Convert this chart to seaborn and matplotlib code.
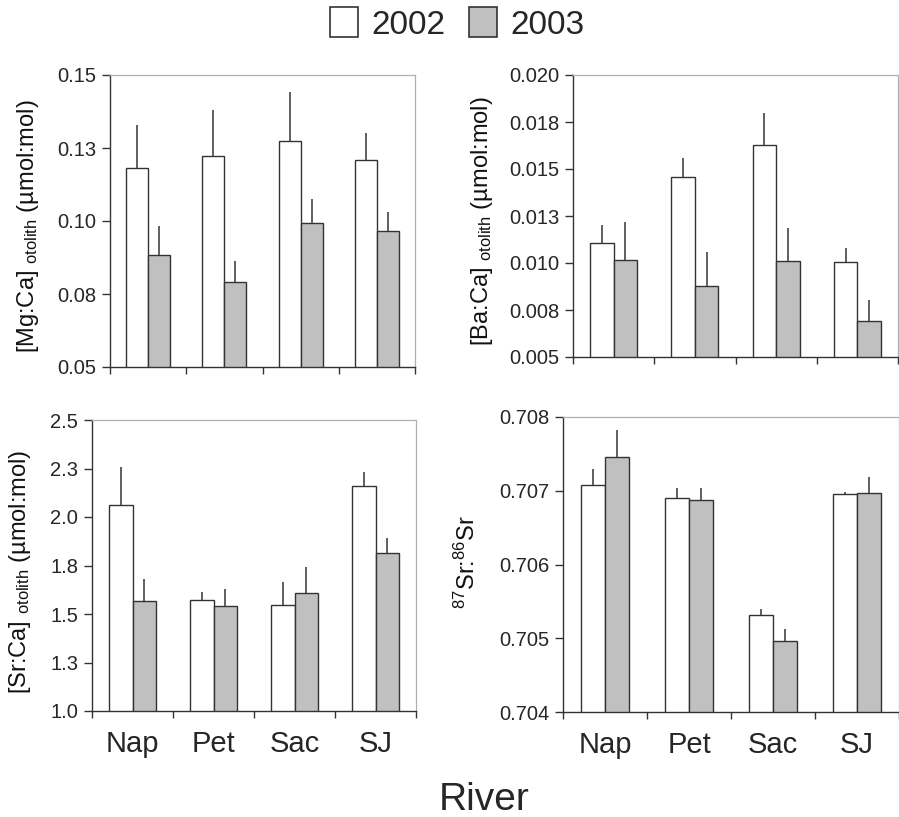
import numpy as np
import pandas as pd
import matplotlib
matplotlib.use("Agg")
import matplotlib.pyplot as plt
import seaborn as sns

# ---------------- data ----------------
rivers = ["Nap", "Pet", "Sac", "SJ"]
years = ["2002", "2003"]

mg_2002 = [0.1183, 0.1222, 0.1275, 0.1209]
mg_2003 = [0.0883, 0.0790, 0.0993, 0.0966]
mg_err_2002 = [0.0146, 0.0158, 0.0168, 0.0094]
mg_err_2003 = [0.0099, 0.0072, 0.0084, 0.0065]

ba_2002 = [0.01107, 0.01457, 0.01627, 0.01006]
ba_2003 = [0.01018, 0.00880, 0.01011, 0.00690]
ba_err_2002 = [0.00094, 0.00103, 0.00169, 0.00074]
ba_err_2003 = [0.00201, 0.00176, 0.00176, 0.00115]

sr_2002 = [2.060, 1.572, 1.548, 2.159]
sr_2003 = [1.569, 1.543, 1.609, 1.814]
sr_err_2002 = [0.199, 0.042, 0.116, 0.072]
sr_err_2003 = [0.112, 0.086, 0.134, 0.079]

iso_2002 = [0.707073, 0.706900, 0.705311, 0.706959]
iso_2003 = [0.707461, 0.706877, 0.704963, 0.706973]
iso_err_2002 = [0.000219, 0.000141, 0.000082, 0.000027]
iso_err_2003 = [0.000361, 0.000164, 0.000156, 0.000214]

mg_ticks = [0.05, 0.075, 0.10, 0.125, 0.15]
mg_tick_labels = ["0.05", "0.08", "0.10", "0.13", "0.15"]
ba_ticks = [0.005, 0.0075, 0.010, 0.0125, 0.015, 0.0175, 0.020]
ba_tick_labels = ["0.005", "0.008", "0.010", "0.013", "0.015", "0.018", "0.020"]
sr_ticks = [1.0, 1.25, 1.5, 1.75, 2.0, 2.25, 2.5]
sr_tick_labels = ["1.0", "1.3", "1.5", "1.8", "2.0", "2.3", "2.5"]
iso_ticks = [0.704, 0.705, 0.706, 0.707, 0.708]
iso_tick_labels = ["0.704", "0.705", "0.706", "0.707", "0.708"]

# ---------------- style ----------------
sns.set_style("ticks")
plt.rcParams["font.family"] = ["Liberation Sans", "DejaVu Sans"]
plt.rcParams["mathtext.fontset"] = "custom"
plt.rcParams["mathtext.rm"] = "Liberation Sans"
plt.rcParams["mathtext.it"] = "Liberation Sans"
plt.rcParams["mathtext.bf"] = "Liberation Sans"

W, H = 899, 817
fig = plt.figure(figsize=(W / 100, H / 100), dpi=100)


def px_axes(x0, y0, x1, y1):
    return fig.add_axes([x0 / W, 1 - y1 / H, (x1 - x0) / W, (y1 - y0) / H])


palette = {"2002": "white", "2003": "#c0c0c0"}


def panel(ax, v02, v03, e02, e03, ticks, tlabels, show_x):
    df = pd.DataFrame({
        "river": rivers * 2,
        "year": [years[0]] * 4 + [years[1]] * 4,
        "value": list(v02) + list(v03),
    })
    sns.barplot(data=df, x="river", y="value", hue="year", order=rivers,
                hue_order=years, palette=palette, edgecolor="#333333",
                linewidth=1.0, width=0.58, errorbar=None, ax=ax)
    for cont, errs in zip(ax.containers, [e02, e03]):
        xs = [p.get_x() + p.get_width() / 2 for p in cont.patches]
        ys = [p.get_height() for p in cont.patches]
        ax.errorbar(xs, ys, yerr=[np.zeros(len(errs)), errs], fmt="none",
                    ecolor="#444444", elinewidth=1.2, capsize=0, zorder=3)
    if ax.get_legend() is not None:
        ax.get_legend().remove()
    ax.set_ylim(ticks[0], ticks[-1])
    ax.set_yticks(ticks, tlabels)
    ax.set_xlim(-0.5, 3.5)
    ax.set_xticks(range(len(rivers)), rivers if show_x else [""] * 4)
    ax.set_xticks([-0.5, 0.5, 1.5, 2.5, 3.5], minor=True)
    ax.tick_params(axis="x", which="major", length=0, labelsize=21, pad=14)
    ax.tick_params(axis="x", which="minor", length=5, width=1, color="#333333")
    ax.tick_params(axis="y", length=6, width=1, color="#333333", labelsize=14.5, pad=4)
    ax.set_xlabel("")
    ax.set_ylabel("")
    for s in ["top", "right"]:
        ax.spines[s].set_color("#b0b0b0")
        ax.spines[s].set_linewidth(0.9)
    for s in ["left", "bottom"]:
        ax.spines[s].set_color("#333333")
        ax.spines[s].set_linewidth(1.0)


ax1 = px_axes(110, 75, 415, 367)
panel(ax1, mg_2002, mg_2003, mg_err_2002, mg_err_2003, mg_ticks, mg_tick_labels, False)
ax2 = px_axes(573, 75, 898, 357)
panel(ax2, ba_2002, ba_2003, ba_err_2002, ba_err_2003, ba_ticks, ba_tick_labels, False)
ax3 = px_axes(92, 420, 416, 711)
panel(ax3, sr_2002, sr_2003, sr_err_2002, sr_err_2003, sr_ticks, sr_tick_labels, True)
ax4 = px_axes(563, 417, 899, 712)
panel(ax4, iso_2002, iso_2003, iso_err_2002, iso_err_2003, iso_ticks, iso_tick_labels, True)

# y labels
def ylab(xc, yc, s, size):
    fig.text(xc / W, 1 - yc / H, s, rotation=90, ha="center", va="center",
             fontsize=size, color="#111111")

ylab(28, 226, r"[Mg:Ca] $_{\mathrm{otolith}}$ (µmol:mol)", 17)
ylab(482, 221, r"[Ba:Ca] $_{\mathrm{otolith}}$ (µmol:mol)", 17)
ylab(20, 572, r"[Sr:Ca] $_{\mathrm{otolith}}$ (µmol:mol)", 17)
ylab(467, 562, r"$^{87}$Sr:$^{86}$Sr", 17)

# River label
fig.text(484 / W, 1 - 810 / H, "River", ha="center", va="baseline", fontsize=28)

# legend
handles = [plt.Rectangle((0, 0), 1, 1, facecolor=palette[y], edgecolor="#333333", linewidth=1.2)
           for y in years]
fig.legend(handles, years, loc="center", bbox_to_anchor=(457 / W, 1 - 24 / H), ncol=2,
           frameon=False, fontsize=24, handlelength=0.85, handleheight=1.0,
           handletextpad=0.4, columnspacing=0.7, borderpad=0, borderaxespad=0)

fig.savefig("out.png", dpi=100)
